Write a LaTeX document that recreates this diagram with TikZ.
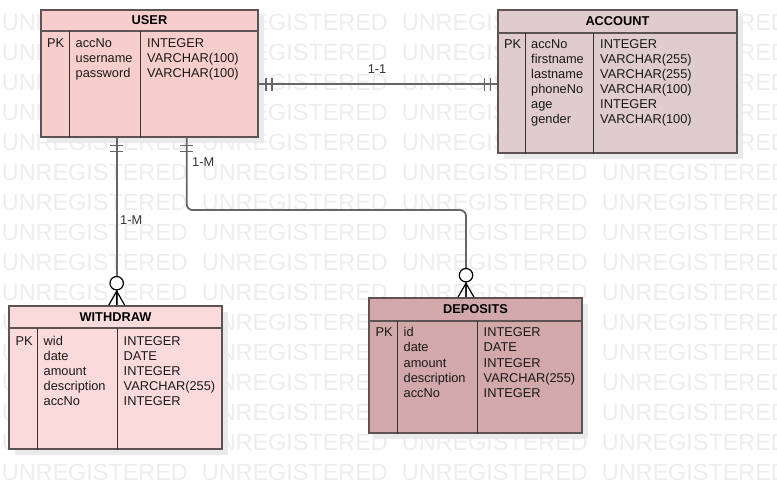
\documentclass[tikz,border=0pt]{standalone}
\usepackage{fontspec}
\setmainfont{Liberation Sans}
\usepackage{tikz}
\usetikzlibrary{calc, positioning, shadows, decorations.markings}
\definecolor{userfill}{HTML}{F8CECC}
\definecolor{accountfill}{HTML}{E0CBCD}
\definecolor{withdrawfill}{HTML}{FADADA}
\definecolor{depositfill}{HTML}{D3A8AA}
\definecolor{edgegray}{HTML}{5E5353}
\definecolor{linkgray}{HTML}{666666}
\definecolor{wmgray}{HTML}{EDEDED}
\definecolor{shadowgray}{HTML}{EAEAEA}
\tikzstyle{entity} = [draw=edgegray, line width=1.6pt, inner sep=0pt, drop shadow={shadow xshift=6pt, shadow yshift=-6pt, fill=shadowgray, opacity=1}]
\tikzstyle{header} = [font=\fontsize{12.8}{15}\selectfont\bfseries, inner sep=0pt]
\tikzstyle{field} = [font=\fontsize{12.8}{15}\selectfont, text=black!90, anchor=base west, inner sep=0pt]
\tikzstyle{headline} = [draw=edgegray, line width=1.6pt]
\tikzstyle{divider} = [draw=edgegray!60!black, line width=1pt]
\tikzstyle{link} = [draw=linkgray, line width=1.8pt]
\tikzstyle{card} = [font=\fontsize{12.8}{15}\selectfont, text=black!80, inner sep=0pt]
\tikzstyle{watermark} = [font=\fontsize{23.4}{28}\selectfont, text=wmgray, anchor=base west, inner sep=0pt]
\tikzstyle{oneone} = [postaction={decorate, decoration={markings,
	mark=at position 7pt with {\draw[linkgray, line width=1.4pt] (0,-6.5) -- (0,6.5);},
	mark=at position 13pt with {\draw[linkgray, line width=1.4pt] (0,-6.5) -- (0,6.5);},
	mark=at position -13pt with {\draw[linkgray, line width=1.4pt] (0,-6.5) -- (0,6.5);},
	mark=at position -7pt with {\draw[linkgray, line width=1.4pt] (0,-6.5) -- (0,6.5);}}}]
\tikzstyle{onemany} = [postaction={decorate, decoration={markings,
	mark=at position 8pt with {\draw[linkgray, line width=1.4pt] (0,-6.5) -- (0,6.5);},
	mark=at position 14pt with {\draw[linkgray, line width=1.4pt] (0,-6.5) -- (0,6.5);},
	mark=at position -22pt with {\draw[black, line width=1.2pt, fill=white] (0,0) circle (6.7pt);},
	mark=at position -14pt with {\draw[black, line width=1.2pt] (0,0) -- (14,8) (0,0) -- (14,0) (0,0) -- (14,-8);}}}]
\newcommand{\fieldlist}[4]{\foreach \t [count=\i] in {#4} \node (#1-\i) [field] at (#2, #3+15*\i-15) {\t};}

\begin{document}
\begin{tikzpicture}[x=1pt, y=-1pt]
	\useasboundingbox (0,0) rectangle (777,489);
	% background text
	\foreach \r in {0,...,15}
		\foreach \c in {0,...,3}
			\node (wm-\r-\c) [watermark] at (1.7+200*\c, 30.4+30*\r) {UNREGISTERED};

	% USER
	\node (user) [entity, fill=userfill, minimum width=217pt, minimum height=127pt] at (149.5,73.5) {};
	\node (user-title) [header] at ($(user.north)+(0,11)$) {USER};
	\draw[headline] ($(user.north west)+(0,22)$) -- ($(user.north east)+(0,22)$);
	\draw[divider] ($(user.north west)+(29,22)$) -- ($(user.south west)+(29,0)$);
	\draw[divider] ($(user.north west)+(100,22)$) -- ($(user.south west)+(100,0)$);
	\node (user-pk) [field] at (47,47.5) {PK};
	\fieldlist{user-n}{75.5}{47.5}{accNo,username,password}
	\fieldlist{user-t}{147}{47.5}{INTEGER,VARCHAR(100),VARCHAR(100)}

	% ACCOUNT
	\node (account) [entity, fill=accountfill, minimum width=239pt, minimum height=143pt] at (617.5,81.5) {};
	\node (account-title) [header] at ($(account.north)+(0,12)$) {ACCOUNT};
	\draw[headline] ($(account.north west)+(0,24)$) -- ($(account.north east)+(0,24)$);
	\draw[divider] ($(account.north west)+(28,24)$) -- ($(account.south west)+(28,0)$);
	\draw[divider] ($(account.north west)+(96,24)$) -- ($(account.south west)+(96,0)$);
	\node (account-pk) [field] at (504,48.8) {PK};
	\fieldlist{account-n}{531}{48.8}{accNo,firstname,lastname,phoneNo,age,gender}
	\fieldlist{account-t}{600}{48.8}{INTEGER,VARCHAR(255),VARCHAR(255),VARCHAR(100),INTEGER,VARCHAR(100)}

	% WITHDRAW
	\node (withdraw) [entity, fill=withdrawfill, minimum width=213pt, minimum height=143pt] at (115.5,377.5) {};
	\node (withdraw-title) [header] at ($(withdraw.north)+(0,11.5)$) {WITHDRAW};
	\draw[headline] ($(withdraw.north west)+(0,23)$) -- ($(withdraw.north east)+(0,23)$);
	\draw[divider] ($(withdraw.north west)+(29,23)$) -- ($(withdraw.south west)+(29,0)$);
	\draw[divider] ($(withdraw.north west)+(109,23)$) -- ($(withdraw.south west)+(109,0)$);
	\node (withdraw-pk) [field] at (15.5,345) {PK};
	\fieldlist{withdraw-n}{43.5}{345}{wid,date,amount,description,accNo}
	\fieldlist{withdraw-t}{123.5}{345}{INTEGER,DATE,INTEGER,VARCHAR(255),INTEGER}

	% DEPOSITS
	\node (deposits) [entity, fill=depositfill, minimum width=213pt, minimum height=135pt] at (475.5,365.5) {};
	\node (deposits-title) [header] at ($(deposits.north)+(0,12)$) {DEPOSITS};
	\draw[headline] ($(deposits.north west)+(0,24)$) -- ($(deposits.north east)+(0,24)$);
	\draw[divider] ($(deposits.north west)+(29,24)$) -- ($(deposits.south west)+(29,0)$);
	\draw[divider] ($(deposits.north west)+(109,24)$) -- ($(deposits.south west)+(109,0)$);
	\node (deposits-pk) [field] at (375.5,337) {PK};
	\fieldlist{deposits-n}{403.5}{337}{id,date,amount,description,accNo}
	\fieldlist{deposits-t}{483.5}{337}{INTEGER,DATE,INTEGER,VARCHAR(255),INTEGER}

	% relations
	\coordinate (link-y) at (0,84.3);
	\draw[link, oneone] (user.east |- link-y) -- (account.west |- link-y);
	\node (lbl-11) [card] at (377,69) {1-1};

	\coordinate (wd-in) at ($(withdraw.north)+(1.2,0)$);
	\draw[link, onemany] (wd-in |- user.south) -- (wd-in);
	\node (lbl-wd) [card, anchor=west] at (120,220) {1-M};

	\coordinate (dep-in) at ($(deposits.north)+(-9.5,0)$);
	\draw[link, onemany, rounded corners=6pt] ($(user.south)+(37.2,0)$) -- ++(0,72.3) -| (dep-in);
	\node (lbl-dep) [card, anchor=west] at (192,162) {1-M};
\end{tikzpicture}
\end{document}
